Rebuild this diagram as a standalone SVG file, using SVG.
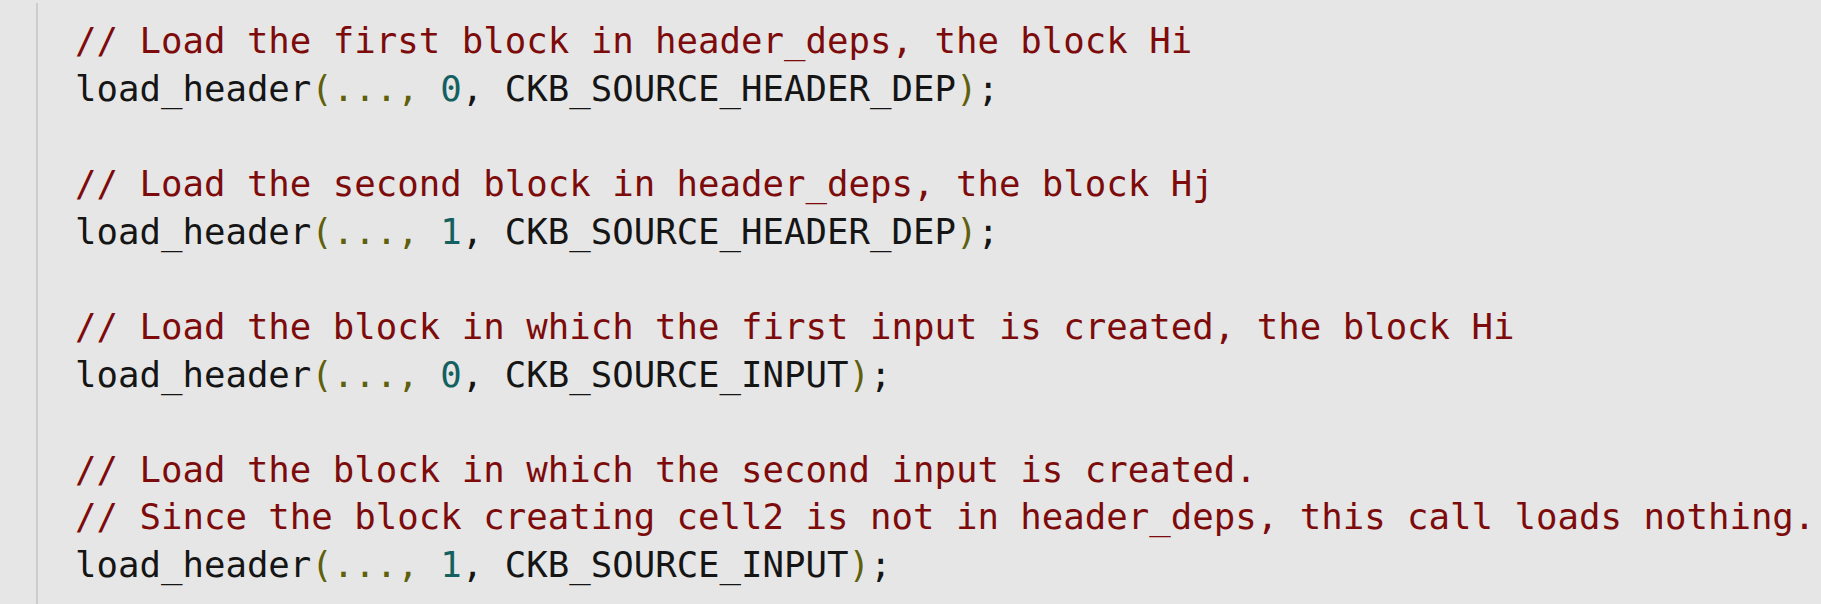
<svg xmlns="http://www.w3.org/2000/svg" width="1821" height="604" viewBox="0 0 1821 604">
<style>
text{font-family:"DejaVu Sans Mono","Liberation Mono",monospace;font-size:35.7px;fill:#151515;white-space:pre}
.c{fill:#7d0b0b}
.p{fill:#5f5f0c}
.n{fill:#146060}
</style>
<rect width="1821" height="604" fill="#e5e6e5"/>
<line x1="37" y1="3" x2="37" y2="604" stroke="#cbcccb" stroke-width="2"/>
<g id="code" xml:space="preserve">
<text x="75" y="53" class="c">// Load the first block in header_deps, the block Hi</text>
<text x="75" y="100.6">load_header<tspan class="p">(...,</tspan> <tspan class="n">0</tspan>, CKB_SOURCE_HEADER_DEP<tspan class="p">)</tspan>;</text>
<text x="75" y="195.9" class="c">// Load the second block in header_deps, the block Hj</text>
<text x="75" y="243.6">load_header<tspan class="p">(...,</tspan> <tspan class="n">1</tspan>, CKB_SOURCE_HEADER_DEP<tspan class="p">)</tspan>;</text>
<text x="75" y="338.8" class="c">// Load the block in which the first input is created, the block Hi</text>
<text x="75" y="386.5">load_header<tspan class="p">(...,</tspan> <tspan class="n">0</tspan>, CKB_SOURCE_INPUT<tspan class="p">)</tspan>;</text>
<text x="75" y="481.8" class="c">// Load the block in which the second input is created.</text>
<text x="75" y="529.4" class="c">// Since the block creating cell2 is not in header_deps, this call loads nothing.</text>
<text x="75" y="577" >load_header<tspan class="p">(...,</tspan> <tspan class="n">1</tspan>, CKB_SOURCE_INPUT<tspan class="p">)</tspan>;</text>
</g>
</svg>
